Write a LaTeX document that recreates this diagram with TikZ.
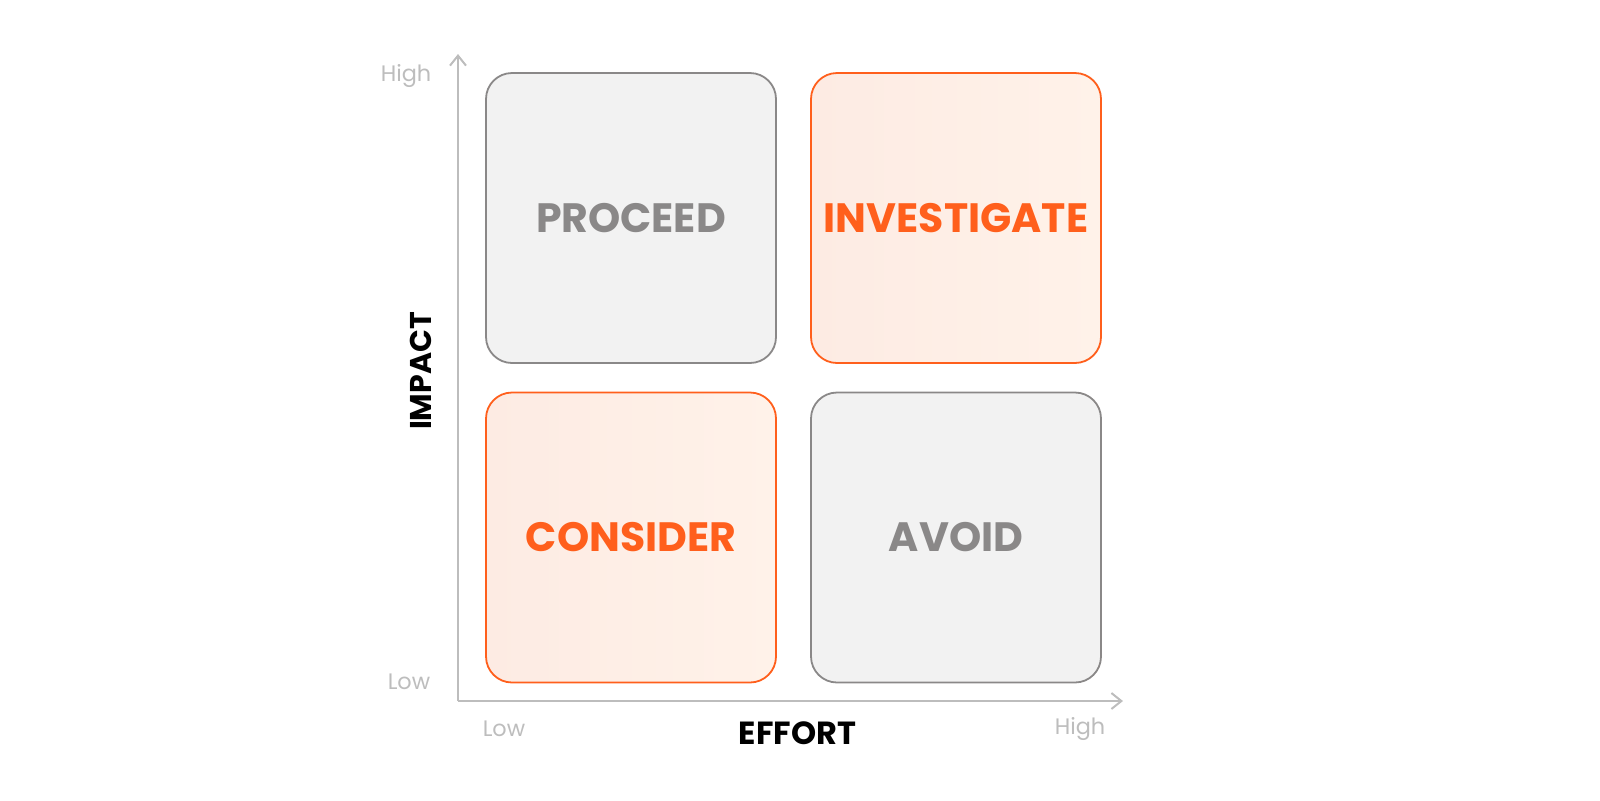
\documentclass[tikz,border=0pt]{standalone}
\usepackage{fontspec}
\setmainfont{Poppins}
\usepackage{tikz}
\usetikzlibrary{arrows.meta}

\definecolor{hot}{HTML}{FF5F1C}
\definecolor{hotfillA}{HTML}{FDEBE3}
\definecolor{hotfillB}{HTML}{FFF2E9}
\definecolor{cool}{HTML}{8A8888}
\definecolor{coolfill}{HTML}{F2F2F2}
\definecolor{axisgray}{HTML}{BDBDBD}

\tikzset{
  quad/.style={rounded corners=13pt, line width=0.9pt, minimum width=145pt, minimum height=145pt, inner sep=0pt},
  coolquad/.style={quad, draw=cool, fill=coolfill},
  hotquad/.style={quad, draw=hot, left color=hotfillA, right color=hotfillB},
  qlabel/.style={font=\fontsize{20.5}{20.5}\selectfont\bfseries},
  tick/.style={text=axisgray, font=\fontsize{11.2}{11.2}\selectfont},
  axistitle/.style={font=\fontsize{16}{16}\selectfont\bfseries, text=black},
  axisline/.style={axisgray, line width=1pt, -{Straight Barb[length=5pt, width=8pt]}}
}

\begin{document}
\begin{tikzpicture}[x=0.5pt, y=-0.5pt]
			\useasboundingbox (0, 0) rectangle (1600, 800);
			\coordinate (origin) at (458, 701);
			\coordinate (ytop) at (458, 54);
			\coordinate (xend) at (1123, 701);
			
			\draw[axisline] (origin) -- (ytop);
			\draw[axisline] (origin) -- (xend);
			
			\node[coolquad] (proceed) at (631, 218) {};
			\node[hotquad] (investigate) at (956, 218) {};
			\node[hotquad] (consider) at (631, 537.5) {};
			\node[coolquad] (avoid) at (956, 537.5) {};
			
			\node[qlabel, text=cool] (tproceed) at (proceed) {PROCEED};
			\node[qlabel, text=hot] (tinvestigate) at (investigate) {INVESTIGATE};
			\node[qlabel, text=hot] (tconsider) at (consider) {CONSIDER};
			\node[qlabel, text=cool] (tavoid) at (avoid) {AVOID};
			
			\node[tick] (yhigh) at (406, 76) {High};
			\node[tick] (ylow) at (409, 682) {Low};
			\node[tick] (xlow) at (504, 728.5) {Low};
			\node[tick] (xhigh) at (1080, 728.5) {High};
			
			\node[axistitle] (effort) at (797.5, 733) {EFFORT};
			\node[axistitle, font=\fontsize{15}{15}\selectfont\bfseries, rotate=90] (impact) at (420.5, 371) {IMPACT};
		\end{tikzpicture}
\end{document}
